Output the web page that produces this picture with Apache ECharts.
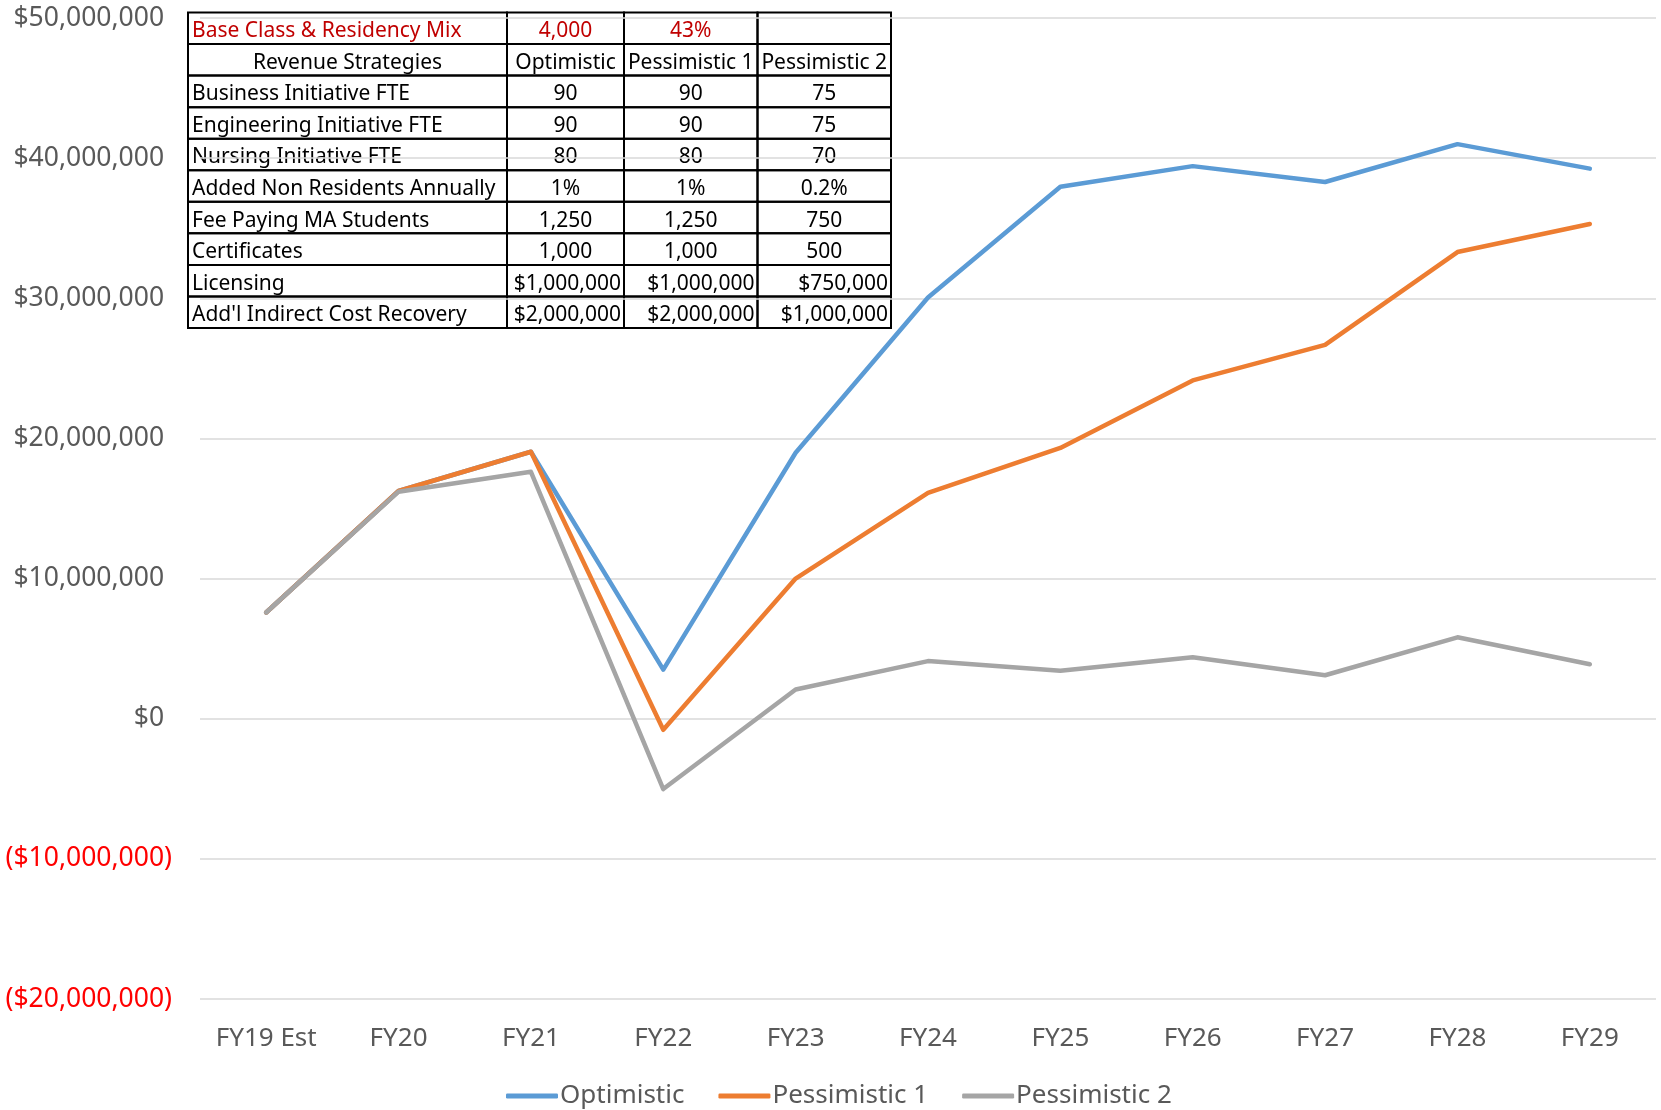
<!DOCTYPE html>
<html>
<head>
<meta charset="utf-8">
<title>Revenue Strategies</title>
<script src="https://cdn.jsdelivr.net/npm/echarts@6/dist/echarts.min.js"></script>
<style>
  html, body { margin: 0; padding: 0; background: #ffffff; }
  #chart { width: 1661px; height: 1110px; }
</style>
</head>
<body>
<div id="chart"></div>
<script>
// chart data
const categories = ['FY19 Est', 'FY20', 'FY21', 'FY22', 'FY23', 'FY24', 'FY25', 'FY26', 'FY27', 'FY28', 'FY29']
const optimistic = [7580000, 16250000, 19050000, 3500000, 18980000, 30060000, 37960000, 39430000, 38300000, 41000000, 39250000]
const pessimistic1 = [7580000, 16250000, 19050000, -790000, 10000000, 16110000, 19320000, 24140000, 26680000, 33300000, 35300000]
const pessimistic2 = [7580000, 16200000, 17620000, -5020000, 2080000, 4110000, 3430000, 4390000, 3100000, 5810000, 3890000]
const yTicks = [-20000000, -10000000, 0, 10000000, 20000000, 30000000, 40000000, 50000000]

// table contents
const tableHeader = ['Base Class & Residency Mix', '4,000', '43%', '']
const tableColumns = ['Revenue Strategies', 'Optimistic', 'Pessimistic 1', 'Pessimistic 2']
const tableRows = [
  ['Business Initiative FTE', '90', '90', '75'],
  ['Engineering Initiative FTE', '90', '90', '75'],
  ['Nursing Initiative FTE', '80', '80', '70'],
  ['Added Non Residents Annually', '1%', '1%', '0.2%'],
  ['Fee Paying MA Students', '1,250', '1,250', '750'],
  ['Certificates', '1,000', '1,000', '500'],
  ['Licensing', '$1,000,000', '$1,000,000', '$750,000'],
  ["Add'l Indirect Cost Recovery", '$2,000,000', '$2,000,000', '$1,000,000']
]

const chart = echarts.init(document.getElementById('chart'))

// table layout
const colX = [188, 507, 624, 757.5, 891]
const tableTop = 12.5
const rowH = 31.55
const tableFont = '21px "Noto Sans"'

const buildTable = () => {
  const els = []
  const allRows = [tableHeader, tableColumns].concat(tableRows)
  allRows.forEach((row, r) => {
    const y = tableTop + r * rowH
    row.forEach((txt, c) => {
      els.push({
        type: 'rect',
        shape: { x: colX[c], y: y, width: colX[c + 1] - colX[c], height: rowH },
        style: { fill: 'none', stroke: '#000000', lineWidth: 2 },
        z: -1
      })
      if (!txt) return
      let align = 'center'
      let x = (colX[c] + colX[c + 1]) / 2
      if (c === 0 && r !== 1) {
        align = 'left'
        x = colX[c] + 4
      } else if (c > 0 && txt.charAt(0) === '$') {
        align = 'right'
        x = colX[c + 1] - 3
      }
      els.push({
        type: 'text',
        x: x,
        y: y + rowH / 2 + 3,
        style: {
          text: txt,
          font: tableFont,
          fill: r === 0 ? '#C00000' : '#000000',
          align: align,
          verticalAlign: 'middle'
        },
        z: -1
      })
    })
  })
  return els
}

const fmtMoney = v => '$' + Math.abs(v).toLocaleString('en-US')

const lineSeries = (name, data, color) => ({
  name: name,
  type: 'line',
  data: data,
  symbol: 'none',
  lineStyle: { color: color, width: 4.5, cap: 'round', join: 'round' },
  itemStyle: { color: color }
})

const option = {
  backgroundColor: '#ffffff',
  animation: false,
  textStyle: { fontFamily: 'Noto Sans' },
  grid: {
    left: 200,
    right: 5,
    top: 18,
    bottom: 111,
    containLabel: false
  },
  legend: {
    left: 501,
    top: 1078,
    icon: 'roundRect',
    itemWidth: 52,
    itemHeight: 5,
    itemGap: 34,
    textStyle: { color: '#595959', fontSize: 26, fontFamily: 'Noto Sans', padding: [0, 0, 0, -3] },
    data: ['Optimistic', 'Pessimistic 1', 'Pessimistic 2']
  },
  xAxis: {
    type: 'category',
    data: categories,
    boundaryGap: true,
    axisLine: { show: false },
    axisTick: { show: false },
    axisLabel: {
      color: '#595959',
      fontSize: 26,
      fontFamily: 'Noto Sans',
      margin: 27
    }
  },
  yAxis: {
    type: 'value',
    min: yTicks[0],
    max: yTicks[yTicks.length - 1],
    interval: 10000000,
    z: 1,
    axisLine: { show: false },
    axisTick: { show: false },
    splitLine: { lineStyle: { color: '#D9D9D9', width: 1.5 } },
    axisLabel: {
      margin: 28,
      formatter: v => v < 0 ? '{n|(' + fmtMoney(v) + ')}' : '{p|' + fmtMoney(v) + '}{h|)}',
      rich: {
        p: { color: '#595959', fontSize: 26.5, fontFamily: 'Noto Sans' },
        n: { color: '#FF0000', fontSize: 26.5, fontFamily: 'Noto Sans' },
        h: { color: 'rgba(0,0,0,0)', fontSize: 26.5, fontFamily: 'Noto Sans' }
      }
    }
  },
  graphic: buildTable(),
  series: [
    lineSeries('Optimistic', optimistic, '#5B9BD5'),
    lineSeries('Pessimistic 1', pessimistic1, '#ED7D31'),
    lineSeries('Pessimistic 2', pessimistic2, '#A5A5A5')
  ]
}

chart.setOption(option)

window.addEventListener('resize', () => {
  chart && chart.resize()
})
</script>
</body>
</html>
